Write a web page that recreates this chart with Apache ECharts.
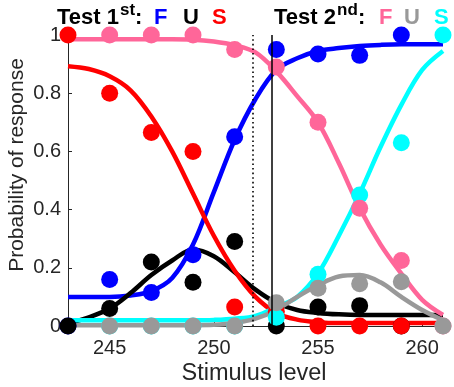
<!DOCTYPE html>
<html>
<head>
<meta charset="utf-8">
<script src="https://cdn.jsdelivr.net/npm/echarts@6/dist/echarts.min.js"></script>
<style>
  html, body { margin: 0; padding: 0; background: #fff; }
  #chart { width: 454px; height: 387px; }
</style>
</head>
<body>
<div id="chart"></div>
<script>
// stimulus levels where responses were measured
const levels1 = [243, 245, 247, 249, 251, 253, 255, 257, 259];
const levels2 = [245, 247, 249, 251, 253, 255, 257, 259, 261];

// test 1st: proportions of F / U / S responses
const test1F = [0, 0.16, 0.115, 0.245, 0.65, 0.95, 0.935, 0.93, 1.0];
const test1U = [0, 0.06, 0.22, 0.15, 0.29, 0, 0.065, 0.07, 0];
const test1S = [1.0, 0.8, 0.665, 0.6, 0.065, 0.05, 0, 0, 0];

// test 2nd: proportions of F / U / S responses
const test2F = [1.0, 1.0, 1.0, 0.95, 0.89, 0.7, 0.405, 0.225, 0];
const test2U = [0, 0, 0, 0, 0.08, 0.13, 0.145, 0.152, 0];
const test2S = [0, 0, 0, 0, 0.03, 0.178, 0.45, 0.63, 1.0];

// fitted curves at each whole level
const curveX = [243, 244, 245, 246, 247, 248, 249, 250, 251, 252, 253, 254, 255, 256, 257, 258, 259, 260, 261];
const fit1F = [0.10, 0.10, 0.10, 0.105, 0.12, 0.165, 0.28, 0.46, 0.64, 0.78, 0.88, 0.92, 0.945, 0.955, 0.962, 0.966, 0.968, 0.968, 0.968];
const fit1U = [0.01, 0.03, 0.06, 0.113, 0.175, 0.225, 0.263, 0.24, 0.185, 0.125, 0.08, 0.055, 0.045, 0.04, 0.038, 0.038, 0.038, 0.038, 0.038];
const fit1S = [0.893, 0.883, 0.858, 0.81, 0.72, 0.6, 0.455, 0.31, 0.19, 0.1, 0.045, 0.022, 0.013, 0.01, 0.01, 0.01, 0.01, 0.01, 0.01];
const fit2F = [0.985, 0.985, 0.985, 0.985, 0.985, 0.985, 0.984, 0.978, 0.965, 0.94, 0.875, 0.79, 0.7, 0.56, 0.405, 0.28, 0.18, 0.09, 0.038];
const fit2U = [0.003, 0.003, 0.003, 0.003, 0.003, 0.003, 0.003, 0.004, 0.01, 0.025, 0.055, 0.1, 0.14, 0.17, 0.175, 0.15, 0.1, 0.055, 0.02];
const fit2S = [0.02, 0.02, 0.02, 0.02, 0.02, 0.02, 0.02, 0.021, 0.025, 0.035, 0.065, 0.1, 0.18, 0.31, 0.455, 0.615, 0.76, 0.88, 0.945];

const xTicks = [245, 250, 255, 260];
const criterionLevel = 251.85;   // dotted line
const boundaryLevel = 252.8;     // solid line

const BLUE = '#0000ff', BLACK = '#000000', RED = '#ff0000';
const PINK = '#ff6699', GRAY = '#999999', CYAN = '#00ffff';
const AXIS = '#262626';
const FONT = '"Liberation Sans", Arial, Helvetica, sans-serif';

function pairs(xs, ys) {
  return xs.map((x, i) => [x, ys[i]]);
}

function curve(name, ys, color) {
  return {
    name: name,
    type: 'line',
    data: pairs(curveX, ys),
    smooth: 0.35,
    showSymbol: false,
    clip: false,
    lineStyle: { color: color, width: 4.5 },
    z: 2,
    silent: true
  };
}

function dots(name, xs, ys, color) {
  return {
    name: name,
    type: 'scatter',
    data: pairs(xs, ys),
    symbol: 'circle',
    symbolSize: 17,
    clip: false,
    itemStyle: { color: color, opacity: 1 },
    z: 3,
    silent: true
  };
}

const chart = echarts.init(document.getElementById('chart'), null, { renderer: 'canvas' });

const titleItems = [
  { text: 'Test 1', x: 57, y: 18, size: 22, color: BLACK },
  { text: 'st', x: 120, y: 10, size: 17, color: BLACK },
  { text: ':', x: 135, y: 18, size: 22, color: BLACK },
  { text: 'F', x: 154, y: 18, size: 22, color: BLUE },
  { text: 'U', x: 183, y: 18, size: 22, color: BLACK },
  { text: 'S', x: 212, y: 18, size: 22, color: RED },
  { text: 'Test 2', x: 274, y: 18, size: 22, color: BLACK },
  { text: 'nd', x: 337, y: 10, size: 17, color: BLACK },
  { text: ':', x: 358, y: 18, size: 22, color: BLACK },
  { text: 'F', x: 379, y: 18, size: 22, color: PINK },
  { text: 'U', x: 404, y: 18, size: 22, color: GRAY },
  { text: 'S', x: 434, y: 18, size: 22, color: CYAN }
];

const graphics = titleItems.map(t => ({
  type: 'text',
  x: t.x,
  y: t.y,
  silent: true,
  style: {
    text: t.text,
    fill: t.color,
    font: 'bold ' + t.size + 'px ' + FONT,
    align: 'left',
    verticalAlign: 'middle'
  }
}));

graphics.push({
  type: 'text',
  x: 17,
  y: 165,
  rotation: Math.PI / 2,
  silent: true,
  style: {
    text: 'Probability of response',
    fill: AXIS,
    font: '21px ' + FONT,
    align: 'center',
    verticalAlign: 'middle'
  }
});
graphics.push({
  type: 'text',
  x: 254,
  y: 374,
  silent: true,
  style: {
    text: 'Stimulus level',
    fill: AXIS,
    font: '23.5px ' + FONT,
    align: 'center',
    verticalAlign: 'middle'
  }
});

const option = {
  animation: false,
  backgroundColor: '#ffffff',
  grid: { left: 68, right: 11, top: 35, bottom: 61, containLabel: false },
  xAxis: {
    type: 'value',
    min: 243,
    max: 261,
    axisLine: { show: true, lineStyle: { color: AXIS, width: 1 } },
    axisTick: { show: true, inside: true, length: 4, customValues: xTicks, lineStyle: { color: AXIS } },
    axisLabel: { customValues: xTicks, margin: 12, fontSize: 20, color: AXIS, fontFamily: FONT },
    splitLine: { show: false }
  },
  yAxis: {
    type: 'value',
    min: 0,
    max: 1,
    interval: 0.2,
    axisLine: { show: true, lineStyle: { color: AXIS, width: 1 } },
    axisTick: { show: true, inside: true, length: 4, lineStyle: { color: AXIS } },
    axisLabel: { margin: 7, fontSize: 20, color: AXIS, fontFamily: FONT },
    splitLine: { show: false }
  },
  graphic: graphics,
  series: [
    curve('fit 1 F', fit1F, BLUE),
    curve('fit 1 U', fit1U, BLACK),
    curve('fit 1 S', fit1S, RED),
    curve('fit 2 S', fit2S, CYAN),
    curve('fit 2 U', fit2U, GRAY),
    curve('fit 2 F', fit2F, PINK),
    {
      name: 'boundaries',
      type: 'line',
      data: [],
      markLine: {
        silent: true,
        symbol: 'none',
        label: { show: false },
        data: [
          { xAxis: criterionLevel, lineStyle: { color: BLACK, width: 1.6, type: [1.6, 3] } },
          { xAxis: boundaryLevel, lineStyle: { color: BLACK, width: 1.5, type: 'solid' } }
        ]
      },
      z: 2
    },
    dots('Test 1 F', levels1, test1F, BLUE),
    dots('Test 1 U', levels1, test1U, BLACK),
    dots('Test 1 S', levels1, test1S, RED),
    dots('Test 2 S', levels2, test2S, CYAN),
    dots('Test 2 F', levels2, test2F, PINK),
    dots('Test 2 U', levels2, test2U, GRAY)
  ]
};

chart.setOption(option);
</script>
</body>
</html>
